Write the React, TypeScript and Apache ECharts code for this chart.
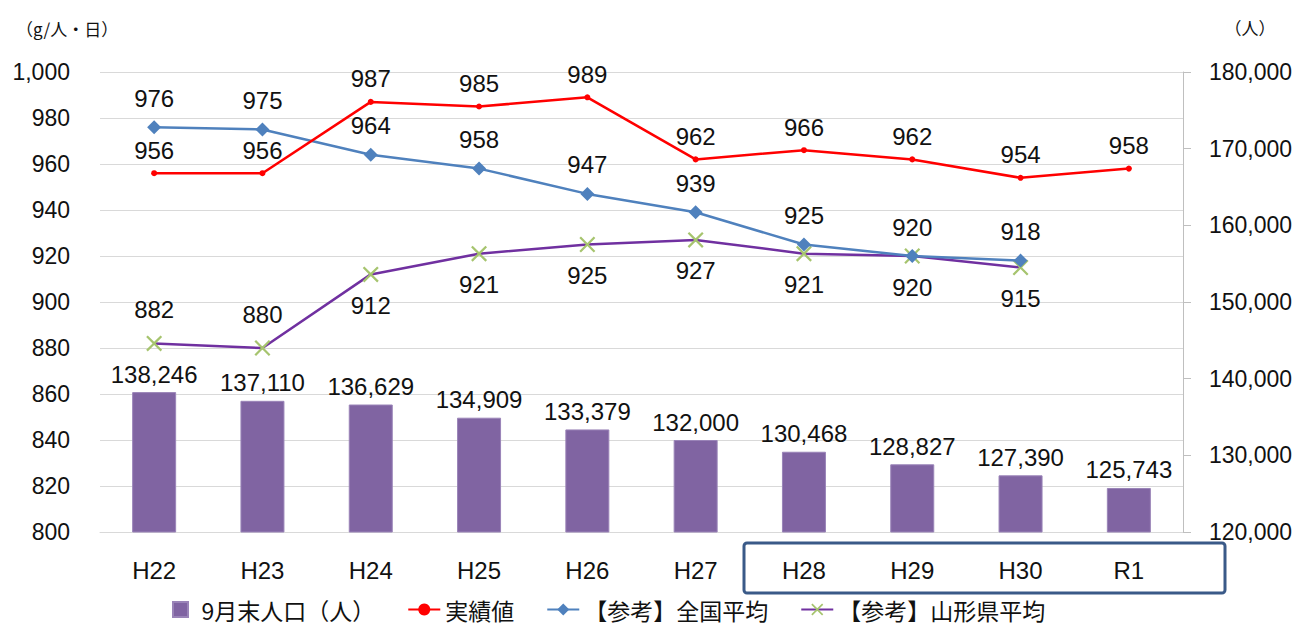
import React, { useEffect, useRef } from "react";
import * as echarts from "echarts";

const categories = ["H22", "H23", "H24", "H25", "H26", "H27", "H28", "H29", "H30", "R1"];
const population = [138246, 137110, 136629, 134909, 133379, 132000, 130468, 128827, 127390, 125743];
const actual = [956, 956, 987, 985, 989, 962, 966, 962, 954, 958];
const nationalAvg = [976, 975, 964, 958, 947, 939, 925, 920, 918, null];
const yamagataAvg = [882, 880, 912, 921, 925, 927, 921, 920, 915, null];

const seriesNames = ["9月末人口（人）", "実績値", "【参考】全国平均", "【参考】山形県平均"];
const leftUnit = "（g/人・日）";
const rightUnit = "（人）";

const FONT = '"Liberation Sans", "Noto Sans CJK JP", sans-serif';
const CJK = '"Noto Sans CJK JP", "Liberation Sans", sans-serif';
const XSYM = "path://M0,1L1,0L5,4L9,0L10,1L6,5L10,9L9,10L5,6L1,10L0,9L4,5Z";
const SQUARE = "path://M0,0L10,0L10,10L0,10Z";

const fmt = (v: number) => v.toLocaleString("en-US");

export default function App() {
  const ref = useRef<HTMLDivElement>(null);
  useEffect(() => {
    if (!ref.current) return;
    const chart = echarts.init(ref.current, null, { renderer: "svg" });
    const labelBase = { show: true, fontSize: 24, color: "#111", fontFamily: FONT };
    chart.setOption({
      animation: false,
      backgroundColor: "#fff",
      textStyle: { fontFamily: FONT },
      grid: { left: 100, right: 118, top: 72, bottom: 94, containLabel: false },
      legend: {
        left: 172,
        top: 598,
        padding: 0,
        itemWidth: 32,
        itemHeight: 15,
        itemGap: 32,
        symbolKeepAspect: true,
        textStyle: { fontSize: 23, lineHeight: 23, fontFamily: CJK, color: "#111" },
        data: [
          { name: seriesNames[0], icon: SQUARE },
          { name: seriesNames[1] },
          { name: seriesNames[2] },
          { name: seriesNames[3] },
        ],
      },
      xAxis: {
        type: "category",
        data: categories,
        axisLine: { show: true, lineStyle: { color: "#D9D9D9", width: 1 } },
        axisTick: { show: false },
        axisLabel: { fontSize: 24, color: "#111", margin: 26, fontFamily: FONT },
      },
      yAxis: [
        {
          type: "value",
          min: 800,
          max: 1000,
          interval: 20,
          axisLine: { show: false },
          axisTick: { show: false },
          axisLabel: { fontSize: 23, color: "#111", margin: 30, formatter: (v: number) => fmt(v), fontFamily: FONT },
          splitLine: { show: true, lineStyle: { color: "#D9D9D9", width: 1 } },
        },
        {
          type: "value",
          min: 120000,
          max: 180000,
          interval: 10000,
          position: "right",
          axisLine: { show: true, lineStyle: { color: "#BFBFBF", width: 1 } },
          axisTick: { show: true, inside: false, length: 8, lineStyle: { color: "#BFBFBF" } },
          axisLabel: { fontSize: 23, color: "#111", margin: 26, formatter: (v: number) => fmt(v), fontFamily: FONT },
          splitLine: { show: false },
        },
      ],
      series: [
        {
          name: seriesNames[0],
          type: "bar",
          yAxisIndex: 1,
          data: population,
          barWidth: 44,
          itemStyle: { color: "#8064A2", borderColor: "#9A84B8", borderWidth: 1 },
          label: { ...labelBase, position: "top", distance: 6, formatter: (p: any) => fmt(p.value) },
          z: 1,
        },
        {
          name: seriesNames[1],
          type: "line",
          yAxisIndex: 0,
          data: actual,
          symbol: "circle",
          symbolSize: 6,
          lineStyle: { color: "#FF0000", width: 2.5 },
          itemStyle: { color: "#FF0000" },
          label: { ...labelBase, position: "top", distance: 8 },
          z: 5,
        },
        {
          name: seriesNames[2],
          type: "line",
          yAxisIndex: 0,
          data: nationalAvg,
          symbol: "diamond",
          symbolSize: 14,
          lineStyle: { color: "#4F81BD", width: 2.5 },
          itemStyle: { color: "#4F81BD" },
          label: { ...labelBase, position: "top", distance: 10 },
          z: 4,
        },
        {
          name: seriesNames[3],
          type: "line",
          yAxisIndex: 0,
          data: yamagataAvg.map((v, i) => ({
            value: v,
            label: i < 2 ? { position: "top", distance: 14 } : { position: "bottom", distance: 11 },
          })),
          symbol: XSYM,
          symbolSize: 16,
          lineStyle: { color: "#7030A0", width: 2.5 },
          itemStyle: { color: "#A6C46E" },
          label: { ...labelBase },
          z: 3,
        },
      ],
      graphic: [
        {
          type: "rect",
          shape: { x: 744, y: 543, width: 481, height: 50, r: 3 },
          style: { stroke: "#3A5A88", lineWidth: 3, fill: "none" },
          z: 10,
        },
        {
          type: "text",
          x: 16,
          y: 28,
          style: { text: leftUnit, font: `17px ${CJK}`, fill: "#111", verticalAlign: "middle", textAlign: "left" },
        },
        {
          type: "text",
          x: 1250,
          y: 27,
          style: { text: rightUnit, font: `17px ${CJK}`, fill: "#111", verticalAlign: "middle", textAlign: "center" },
        },
      ],
    });
    return () => chart.dispose();
  }, []);
  return (
    <div
      ref={ref}
      style={{ position: "fixed", left: 0, top: 0, width: 1301, height: 626, background: "#fff" }}
    />
  );
}
